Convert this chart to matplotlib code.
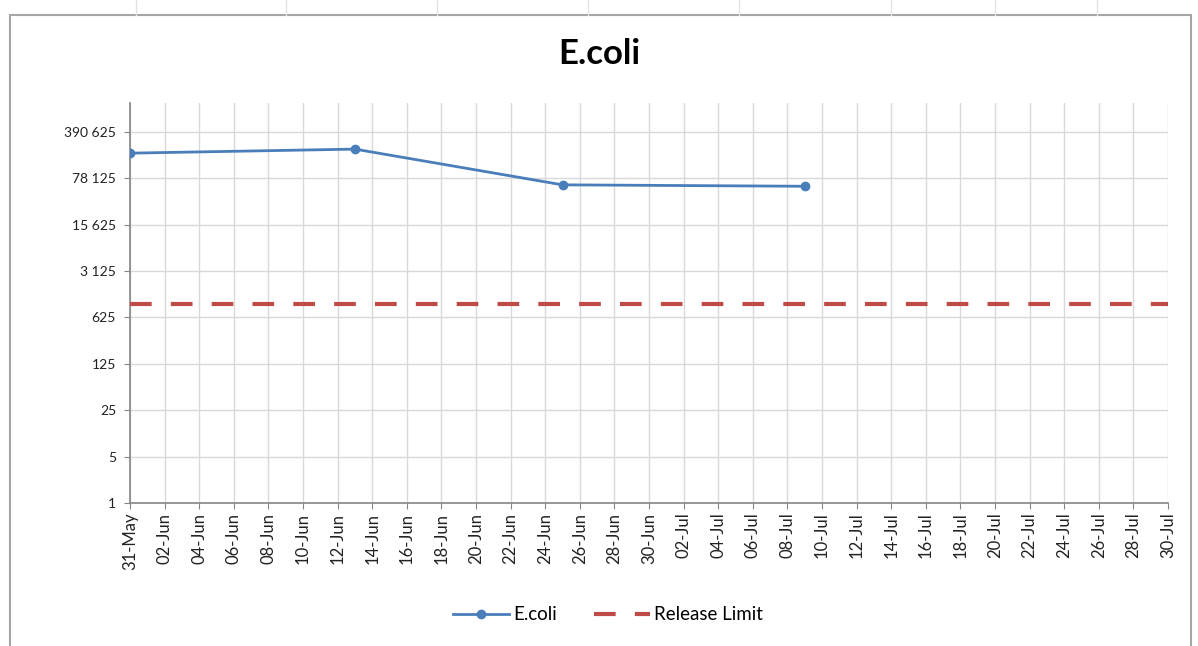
import datetime as dt
import matplotlib
matplotlib.use("Agg")
import matplotlib.pyplot as plt
import matplotlib.dates as mdates
from matplotlib.ticker import FixedLocator, FuncFormatter, NullLocator
from matplotlib.patches import Rectangle

plt.rcParams['font.family'] = ['Lato', 'DejaVu Sans']

# data
sample_dates = ["2013-05-31", "2013-06-13", "2013-06-25", "2013-07-09"]
ecoli_counts = [186000, 214000, 62000, 59000]
limit_dates = ["2013-05-31", "2013-07-30"]
release_limit = [1000, 1000]
y_ticks = [1, 5, 25, 125, 625, 3125, 15625, 78125, 390625]
x_start, x_end = "2013-05-31", "2013-07-30"

to_date = lambda s: dt.datetime.strptime(s, "%Y-%m-%d")

fig = plt.figure(figsize=(11.98, 6.46), dpi=100)
ax = fig.add_axes([130 / 1198, 1 - 503 / 646, (1168 - 130) / 1198, (503 - 103) / 646])

grid_c = '#d9d9d9'
axis_c = '#868686'
blue = '#4a7ebb'
red = '#be4b48'

ax.plot([to_date(d) for d in sample_dates], ecoli_counts, color=blue, lw=2.0,
        marker='o', ms=6, mfc=blue, mec=blue, label='E.coli', zorder=4)
ax.plot([to_date(d) for d in limit_dates], release_limit, color=red, lw=3.0,
        dashes=(5.2, 4.6), dash_capstyle='butt', label='Release Limit', zorder=3)

ax.set_yscale('log', base=5)
ax.set_ylim(1, 5 ** 8.62)
ax.yaxis.set_major_locator(FixedLocator(y_ticks))
ax.yaxis.set_minor_locator(NullLocator())
ax.yaxis.set_major_formatter(FuncFormatter(lambda v, p: f"{int(round(v)):,}".replace(",", " ")))

# ticks every 2 days from 31-May to 30-Jul
ax.set_xlim(to_date(x_start), to_date(x_end))
ticks = [to_date(x_start) + dt.timedelta(days=2 * i) for i in range(31)]
ax.set_xticks(ticks)
ax.xaxis.set_major_formatter(mdates.DateFormatter('%d-%b'))
for lab in ax.get_xticklabels():
    lab.set_rotation(90)

ax.grid(True, color=grid_c, lw=1.0)
ax.set_axisbelow(True)
for side in ['top', 'right']:
    ax.spines[side].set_visible(False)
for side in ['left', 'bottom']:
    ax.spines[side].set_color(axis_c)
    ax.spines[side].set_linewidth(1.2)
ax.tick_params(axis='both', colors=axis_c, labelcolor='#222222', length=4)
ax.tick_params(axis='y', pad=6, labelsize=10)
ax.tick_params(axis='x', labelsize=12, pad=3)

fig.text(0.5, 1 - 54 / 646, 'E.coli', ha='center', va='center', fontsize=25, fontweight='bold')

leg = fig.legend(loc='center', bbox_to_anchor=(608 / 1198, 1 - 615 / 646), ncol=2,
                 frameon=False, fontsize=13.5, handlelength=3.0, handletextpad=0.2,
                 columnspacing=2.0)

# chart area border and faint spreadsheet cell lines
fig.patches.append(Rectangle((10 / 1198, -0.05), 1181 / 1198, 1.05 - 15 / 646, transform=fig.transFigure,
                             fill=False, ec='#a6a6a6', lw=1.5))
for cx in [136, 286, 437, 588, 739, 891, 995, 1097]:
    fig.add_artist(plt.Line2D([cx / 1198, cx / 1198], [1 - 15 / 646, 1], transform=fig.transFigure,
                              color='#e3e3e3', lw=1))

fig.savefig('out.png', dpi=100)
